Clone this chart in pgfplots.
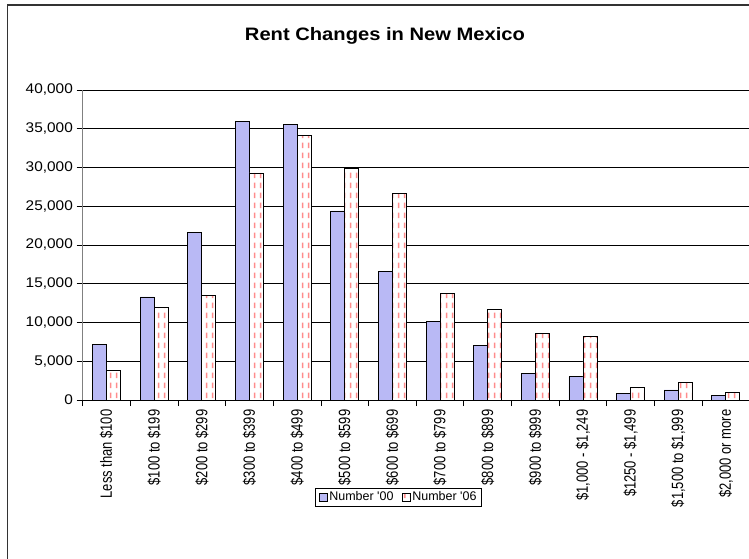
\documentclass[border=0pt]{standalone}
\usepackage{fontspec}
\setmainfont{Liberation Sans}
\usepackage{pgfplots}
\pgfplotsset{compat=1.18}
\usetikzlibrary{patterns}
\definecolor{bluefill}{RGB}{185,185,245}
\definecolor{pinkdash}{RGB}{255,140,140}
\pgfdeclarepatternformonly{vdash}{\pgfpoint{0bp}{0bp}}{\pgfpoint{6bp}{10bp}}{\pgfpoint{6bp}{10bp}}{%
  \pgfsetlinewidth{1.8bp}\pgfpathmoveto{\pgfpoint{3bp}{1bp}}\pgfpathlineto{\pgfpoint{3bp}{7bp}}\pgfusepath{stroke}}
\pgfplotsset{sqlegend/.style={legend image code/.code={\draw[##1] (0bp,-4bp) rectangle (8bp,4bp);}}}
\begin{document}
\begin{tikzpicture}
\path[use as bounding box] (0,0) rectangle (749bp,559bp);
\clip (0,0) rectangle (749bp,559bp);
\draw[line width=1.2bp, black!80] (7.5bp,-10bp) -- (7.5bp,554bp) -- (760bp,554bp);
\node[font=\fontsize{18bp}{20bp}\selectfont\bfseries, xscale=1.12] at (385bp,523bp) {Rent Changes in New Mexico};
\begin{axis}[
  at={(82.7bp,159bp)}, anchor=south west,
  scale only axis, width=667bp, height=310bp,
  xmin=-0.5, xmax=13.5, ymin=0, ymax=40000,
  ybar=0pt, bar width=14bp,
  axis lines*=left,
  x axis line style={draw=black, line width=0.8bp},
  y axis line style={draw=gray, line width=0.8bp},
  xtick={-0.5,0.5,...,13.5},
  x tick label as interval,
  xticklabels={Less than \$100, \$100 to \$199, \$200 to \$299, \$300 to \$399, \$400 to \$499, \$500 to \$599, \$600 to \$699, \$700 to \$799, \$800 to \$899, \$900 to \$999, {\$1,000 - \$1,249}, {\$1250 - \$1,499}, {\$1,500 to \$1,999}, {\$2,000 or more}},
  xticklabel style={rotate=90, yscale=1.25, anchor=east, font=\fontsize{13bp}{15bp}\selectfont},
  ytick={0,5000,...,40000},
  yticklabel style={xscale=1.1, font=\fontsize{14bp}{16bp}\selectfont},
  scaled y ticks=false,
  /pgf/number format/1000 sep={,},
  /pgf/number format/assume math mode=true,
  tick align=outside,
  major tick length=6bp,
  tick style={black, line width=0.8bp},
  ymajorgrids,
  grid style={black, line width=0.7bp},
  legend style={at={(0.4735,-0.3135)}, anchor=center, draw=black, line width=0.8bp, legend columns=2,
    font=\fontsize{12.5bp}{14bp}\selectfont, inner xsep=3bp, inner ysep=1.5bp,
    /tikz/every even column/.append style={column sep=6bp}},
]
\addplot[draw=black, line width=0.8bp, fill=bluefill, sqlegend]
  coordinates {(0,7200) (1,13300) (2,21600) (3,36000) (4,35500) (5,24400) (6,16600) (7,10100) (8,7000) (9,3400) (10,3000) (11,900) (12,1300) (13,600)};
\addplot[draw=black, line width=0.8bp, pattern=vdash, pattern color=pinkdash, preaction={fill=white}, sqlegend]
  coordinates {(0,3800) (1,11900) (2,13500) (3,29300) (4,34100) (5,29900) (6,26600) (7,13700) (8,11700) (9,8600) (10,8200) (11,1600) (12,2300) (13,1000)};
\legend{Number \textquotesingle 00, Number \textquotesingle 06}
\end{axis}
\end{tikzpicture}
\end{document}
